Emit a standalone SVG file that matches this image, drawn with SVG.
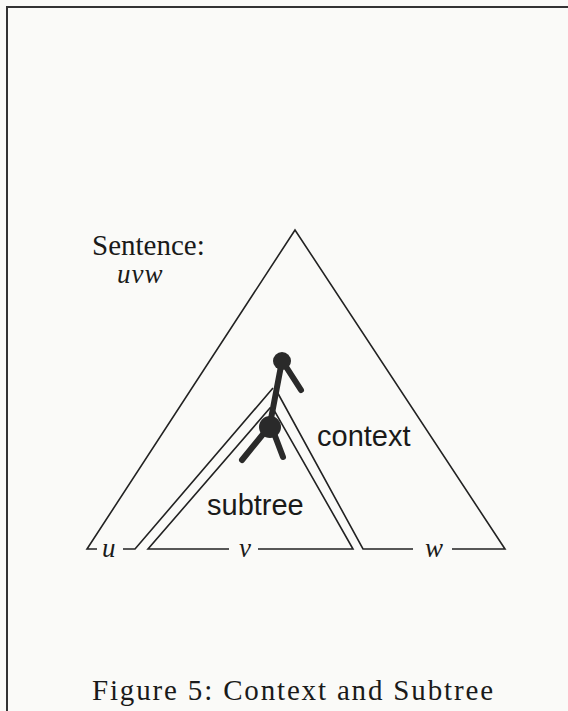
<svg xmlns="http://www.w3.org/2000/svg" width="568" height="711" viewBox="0 0 568 711">
<style>
.ln{fill:none;stroke:#222;stroke-width:1.6;stroke-linejoin:miter}
.br{fill:none;stroke:#2a2a2a;stroke-width:6;stroke-linecap:round}
.nd{fill:#2a2a2a}
.serif{font-family:"Liberation Serif","Times New Roman",serif;fill:#1a1a1a}
.it{font-family:"Liberation Serif","Times New Roman",serif;font-style:italic;fill:#1a1a1a}
.sans{font-family:"Liberation Sans",Arial,sans-serif;fill:#1a1a1a}
</style>
<rect x="0" y="0" width="568" height="711" fill="#fafaf8"/>
<g id="frame">
<path d="M7,711 L7,7 L568,7" fill="none" stroke="#333" stroke-width="2"/>
</g>
<g id="connectors">
<path id="outer" class="ln" d="M97,549 L87,549 L295,230 L505,549 L452,549"/>
<path id="context-left" class="ln" d="M123,549 L135,549 L273,388"/>
<path id="context-right" class="ln" d="M275,388 L363,549 L413,549"/>
<path id="subtree-tri" class="ln" d="M229,549 L148,549 L270,408 L274,410 L353,549 L258,549"/>
</g>
<g id="tree">
<path class="br" d="M283,362 L301,390"/>
<path class="br" d="M281,366 L270,424" stroke-width="5"/>
<path class="br" d="M268,428 L242,460"/>
<path class="br" d="M272,428 L283,457"/>
<circle class="nd" cx="282" cy="361" r="9"/>
<circle class="nd" cx="270" cy="427" r="11"/>
</g>
<g id="labels">
<text class="serif" x="92" y="255" font-size="29">Sentence:</text>
<text class="it" x="117" y="283" font-size="27" letter-spacing="1">uvw</text>
<text class="sans" x="317" y="446" font-size="29">context</text>
<text class="sans" x="207" y="515" font-size="29">subtree</text>
<text class="it" x="102" y="557" font-size="27">u</text>
<text class="it" x="239" y="557" font-size="27">v</text>
<text class="it" x="425" y="557" font-size="27">w</text>
<text class="serif" x="92" y="700" font-size="29" textLength="401" lengthAdjust="spacing">Figure 5: Context and Subtree</text>
</g>
</svg>
